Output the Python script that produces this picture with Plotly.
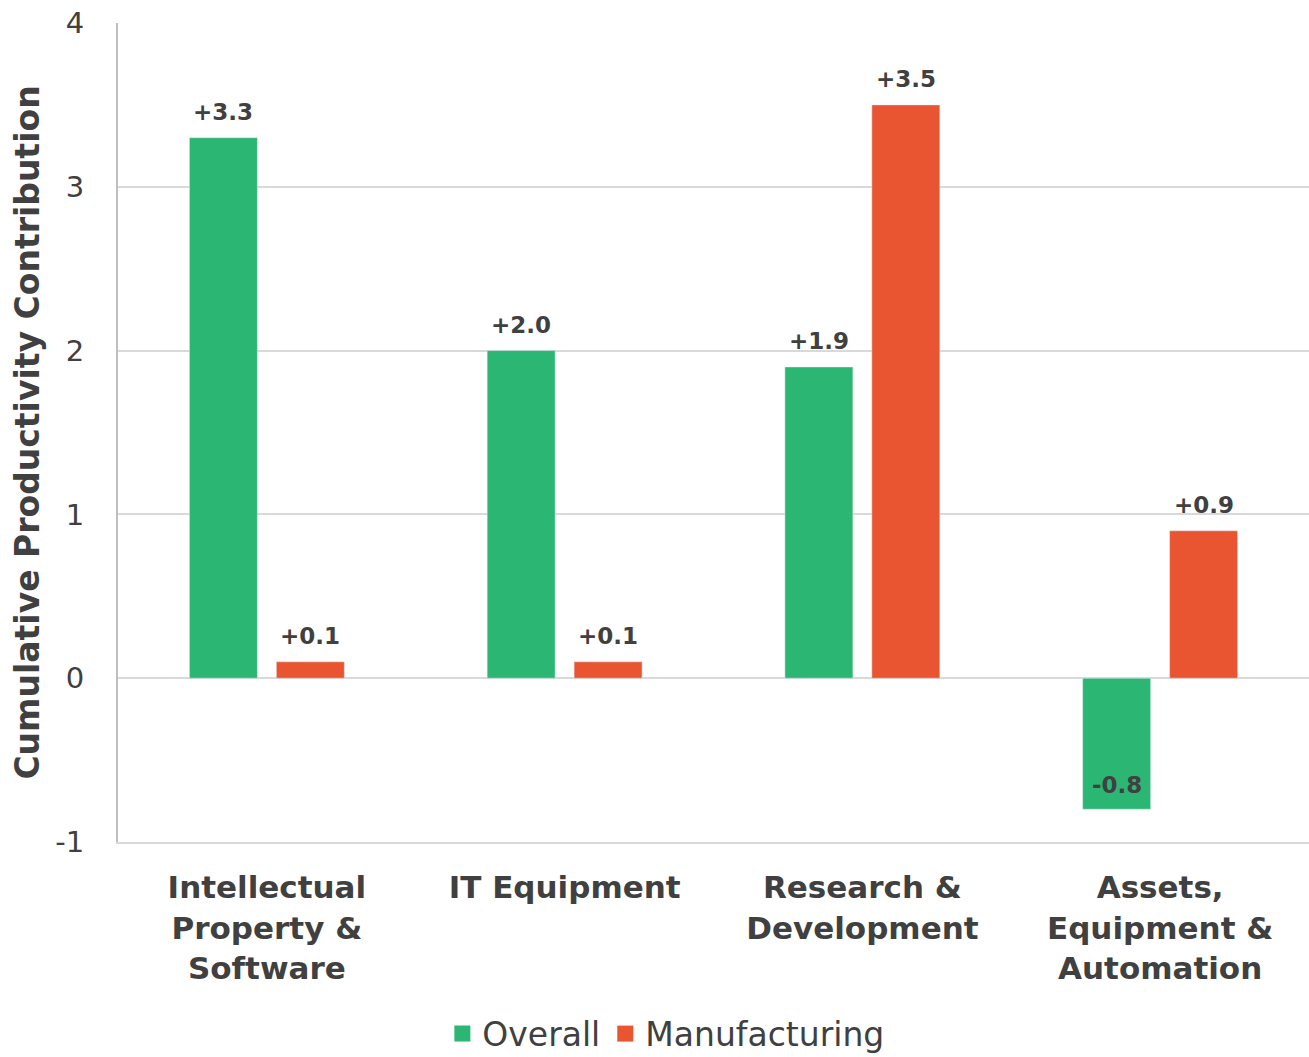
import plotly.graph_objects as go

# Categories (multi-line axis labels) and series values
categories = [
    "Intellectual<br>Property &<br>Software",
    "IT Equipment",
    "Research &<br>Development",
    "Assets,<br>Equipment &<br>Automation",
]
overall = [3.3, 2.0, 1.9, -0.8]
manufacturing = [0.1, 0.1, 3.5, 0.9]
y_ticks = [-1, 0, 1, 2, 3, 4]
y_tick_labels = ["-1", "0", "1", "2", "3", "4"]

GREEN = "#2CB673"
ORANGE = "#E85530"
TEXT = "#404040"
GRID = "#D9D9D9"
FONT = "Tahoma, Verdana, DejaVu Sans, sans-serif"

WIDTH, HEIGHT = 1309, 1057
MARGIN = dict(l=118, r=0, t=23, b=215, autoexpand=False)
BARGAP, BARGROUPGAP = 0.416, 0.218

fig = go.Figure()
for name, vals, color in [("Overall", overall, GREEN),
                          ("Manufacturing", manufacturing, ORANGE)]:
    fig.add_trace(go.Bar(
        x=categories, y=vals, name=name, marker_color=color,
        showlegend=False,
    ))

# value labels: above positive bars, inside the end of negative bars
plot_w = WIDTH - MARGIN["l"] - MARGIN["r"]
slot = plot_w / len(categories) * (1 - BARGAP) / 2
for offset, vals in [(-slot / 2, overall), (slot / 2, manufacturing)]:
    for cat, v in zip(categories, vals):
        fig.add_annotation(
            x=cat, y=v, xref="x", yref="y",
            text=f"{v:+.1f}", showarrow=False,
            xshift=offset, yanchor="bottom",
            yshift=11 if v >= 0 else 9,
            font=dict(family=FONT, size=23, color=TEXT, weight="bold"),
        )

# legend entries with square swatches
for name, color in [("Overall", GREEN), ("Manufacturing", ORANGE)]:
    fig.add_trace(go.Scatter(
        x=[None], y=[None], mode="markers", name=name,
        marker=dict(symbol="square", size=20, color=color),
        showlegend=True,
    ))

fig.update_layout(
    width=WIDTH, height=HEIGHT,
    margin=MARGIN,
    paper_bgcolor="white", plot_bgcolor="white",
    barmode="group", bargap=BARGAP, bargroupgap=BARGROUPGAP,
    font=dict(family=FONT, color=TEXT),
    legend=dict(
        orientation="h", x=0.46, xanchor="center", y=-0.234, yanchor="middle",
        font=dict(family=FONT, size=33, color=TEXT),
        itemwidth=30,
    ),
)
fig.update_xaxes(
    tickfont=dict(family=FONT, size=31, color=TEXT, weight="bold"),
    showline=True, linecolor=GRID, linewidth=2,
    showgrid=False, ticks="", ticklabelstandoff=17, automargin=False,
)
fig.update_yaxes(
    range=[-1, 4], tickvals=y_ticks, ticktext=y_tick_labels,
    tickfont=dict(family=FONT, size=29, color=TEXT),
    showgrid=True, gridcolor=GRID, gridwidth=2,
    zeroline=True, zerolinecolor=GRID, zerolinewidth=2,
    showline=True, linecolor="#BFBFBF", linewidth=2,
    ticks="", ticklabelstandoff=26, automargin=False,
    title=dict(
        text="Cumulative Productivity Contribution",
        font=dict(family=FONT, size=33, color=TEXT, weight="bold"),
        standoff=6,
    ),
)

fig.write_html("out.html")
